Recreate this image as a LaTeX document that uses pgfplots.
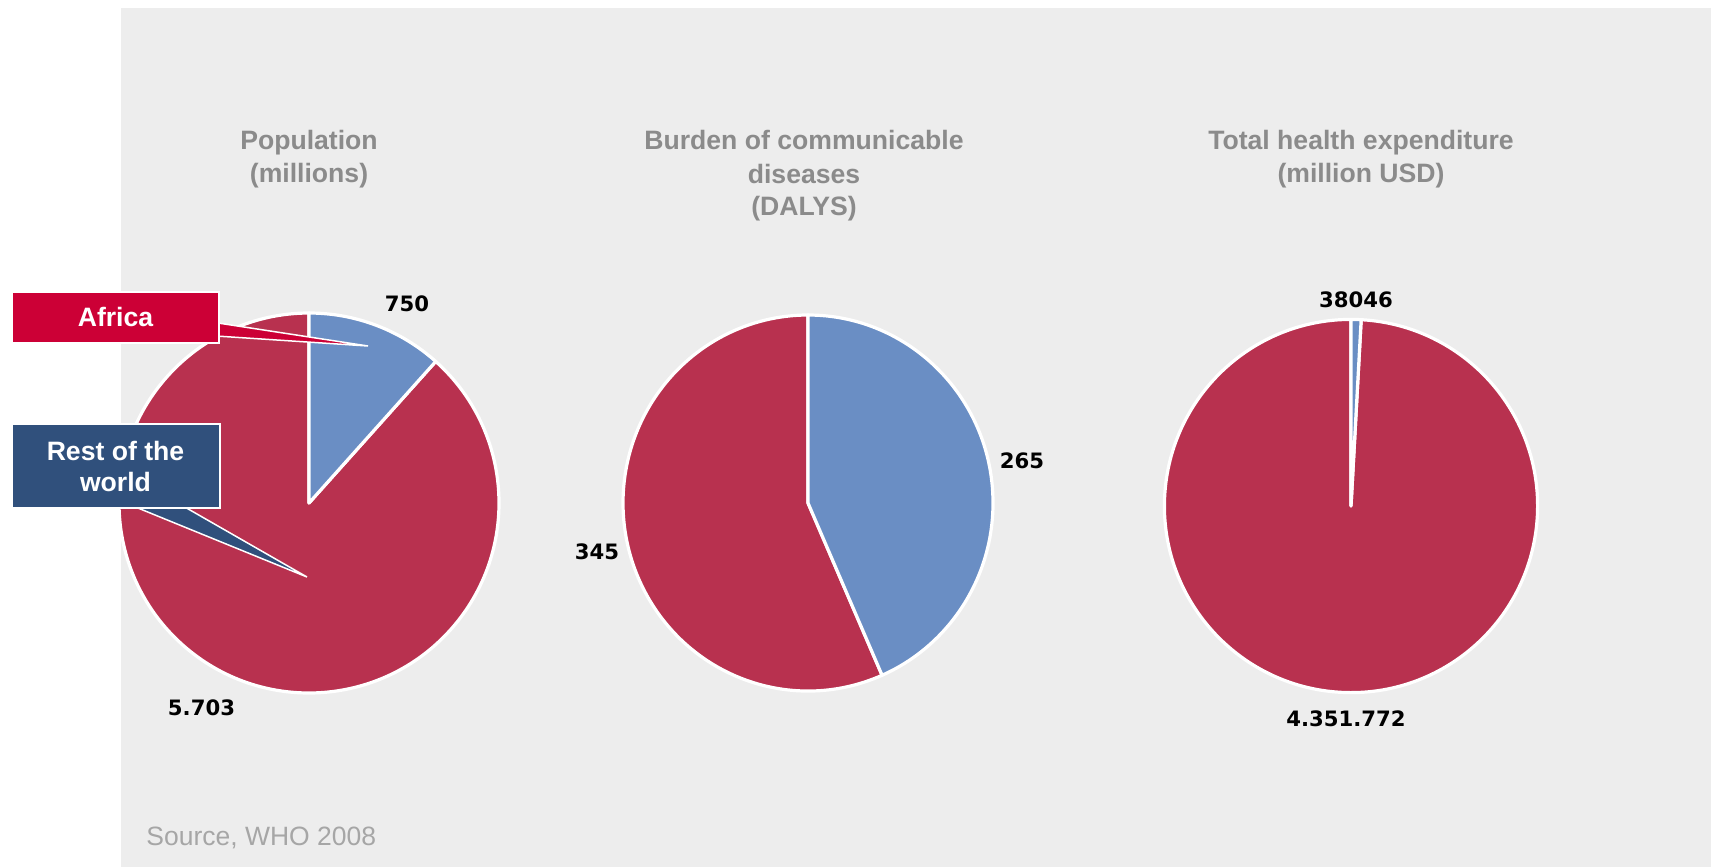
\documentclass[border=0pt]{standalone}
\usepackage{pgfplots}
\pgfplotsset{compat=1.18}
\usepackage{pgfplotstable}
\usepackage{fontspec}
\setmainfont{Liberation Sans}
\newfontfamily\valfont{DejaVu Sans}
\definecolor{bg}{HTML}{EDEDED}
\definecolor{pred}{HTML}{B8314F}
\definecolor{pblue}{HTML}{6A8EC4}
\definecolor{afr}{HTML}{CC0036}
\definecolor{restc}{HTML}{30507C}
\definecolor{ttl}{HTML}{8B8B8B}
\definecolor{srcc}{HTML}{A6A6A6}

% values: Africa, rest of the world
\pgfplotstableread{
chart africa rest
Population 750 5703
Burden 265 345
Expenditure 38046 4351772
}\piedata

\pgfplotstablegetelem{0}{africa}\of\piedata \let\aA\pgfplotsretval
\pgfplotstablegetelem{0}{rest}\of\piedata \let\bA\pgfplotsretval
\pgfplotstablegetelem{1}{africa}\of\piedata \let\aB\pgfplotsretval
\pgfplotstablegetelem{1}{rest}\of\piedata \let\bB\pgfplotsretval
\pgfplotstablegetelem{2}{africa}\of\piedata \let\aC\pgfplotsretval
\pgfplotstablegetelem{2}{rest}\of\piedata \let\bC\pgfplotsretval
\edef\angA{\fpeval{round(90-360*\aA/(\aA+\bA),4)}}
\edef\angB{\fpeval{round(90-360*\aB/(\aB+\bB),4)}}
\edef\angC{\fpeval{round(90-360*\aC/(\aC+\bC),4)}}

% cx cy rx ry startangle endangle colour
\newcommand\slice[7]{%
  \fill[#7,draw=white,line width=1.6pt,line join=round]
    (axis cs:#1,#2) -- ([shift={({#3*cos(#5)},{#4*sin(#5)})}]axis cs:#1,#2)
    arc[start angle=#5,end angle=#6,x radius=#3,y radius=#4] -- cycle;}

\begin{document}
\begin{tikzpicture}
\begin{axis}[
  x=0.5pt, y=0.5pt, y dir=reverse,
  xmin=0, xmax=1711, ymin=0, ymax=867,
  hide axis, clip=false,
  scale only axis,
]
\fill[white] (axis cs:0,0) rectangle (axis cs:1711,867);
\fill[bg] (axis cs:121,8) rectangle (axis cs:1711,867);

% pie 1
\slice{309}{503}{95pt}{95pt}{\angA}{-270}{pred}
\slice{309}{503}{95pt}{95pt}{90}{\angA}{pblue}
% pie 2
\slice{808}{503}{92.5pt}{94pt}{\angB}{-270}{pred}
\slice{808}{503}{92.5pt}{94pt}{90}{\angB}{pblue}
% pie 3
\slice{1351}{506}{93.3pt}{93.3pt}{\angC}{-270}{pred}
\slice{1351}{506}{93.3pt}{93.3pt}{90}{\angC}{pblue}

% titles
\begin{scope}[every node/.style={anchor=base, text=ttl, inner sep=0pt, font=\bfseries\fontsize{13.3}{16}\selectfont}]
\node at (axis cs:309,149) {Population};
\node at (axis cs:309,182) {(millions)};
\node at (axis cs:804,149) {Burden of communicable};
\node at (axis cs:804,183) {diseases};
\node at (axis cs:804,215) {(DALYS)};
\node at (axis cs:1361,149) {Total health expenditure};
\node at (axis cs:1361,182) {(million USD)};
\end{scope}

% value labels
\begin{scope}[every node/.style={anchor=center, text=black, inner sep=0pt, font=\valfont\bfseries\fontsize{10.6}{12}\selectfont}]
\node at (axis cs:407,304) {750};
\node at (axis cs:201.5,707.5) {5.703};
\node at (axis cs:1022,460.5) {265};
\node at (axis cs:597,551.7) {345};
\node at (axis cs:1356,299.5) {38046};
\node at (axis cs:1346,718.3) {4.351.772};
\end{scope}

% callouts
\fill[afr,draw=white,line width=0.75pt,line join=miter] (axis cs:216,322.7) -- (axis cs:368,346) -- (axis cs:216,336) -- cycle;
\fill[restc,draw=white,line width=0.75pt,line join=miter] (axis cs:133,506) -- (axis cs:307,577) -- (axis cs:183,506) -- cycle;
\fill[afr,draw=white,line width=0.75pt] (axis cs:12,292) rectangle (axis cs:219,343);
\fill[restc,draw=white,line width=0.75pt] (axis cs:12,424) rectangle (axis cs:220,508);
\begin{scope}[every node/.style={anchor=base, text=white, inner sep=0pt, font=\bfseries\fontsize{13.3}{16}\selectfont}]
\node at (axis cs:115.5,326.7) {Africa};
\node at (axis cs:115.5,460) {Rest of the};
\node at (axis cs:115.5,491) {world};
\end{scope}

% source
\node[anchor=base west, inner sep=0pt, text=srcc, font=\fontsize{13.25}{16}\selectfont] at (axis cs:146,845) {Source, WHO 2008};
\end{axis}
\end{tikzpicture}
\end{document}
